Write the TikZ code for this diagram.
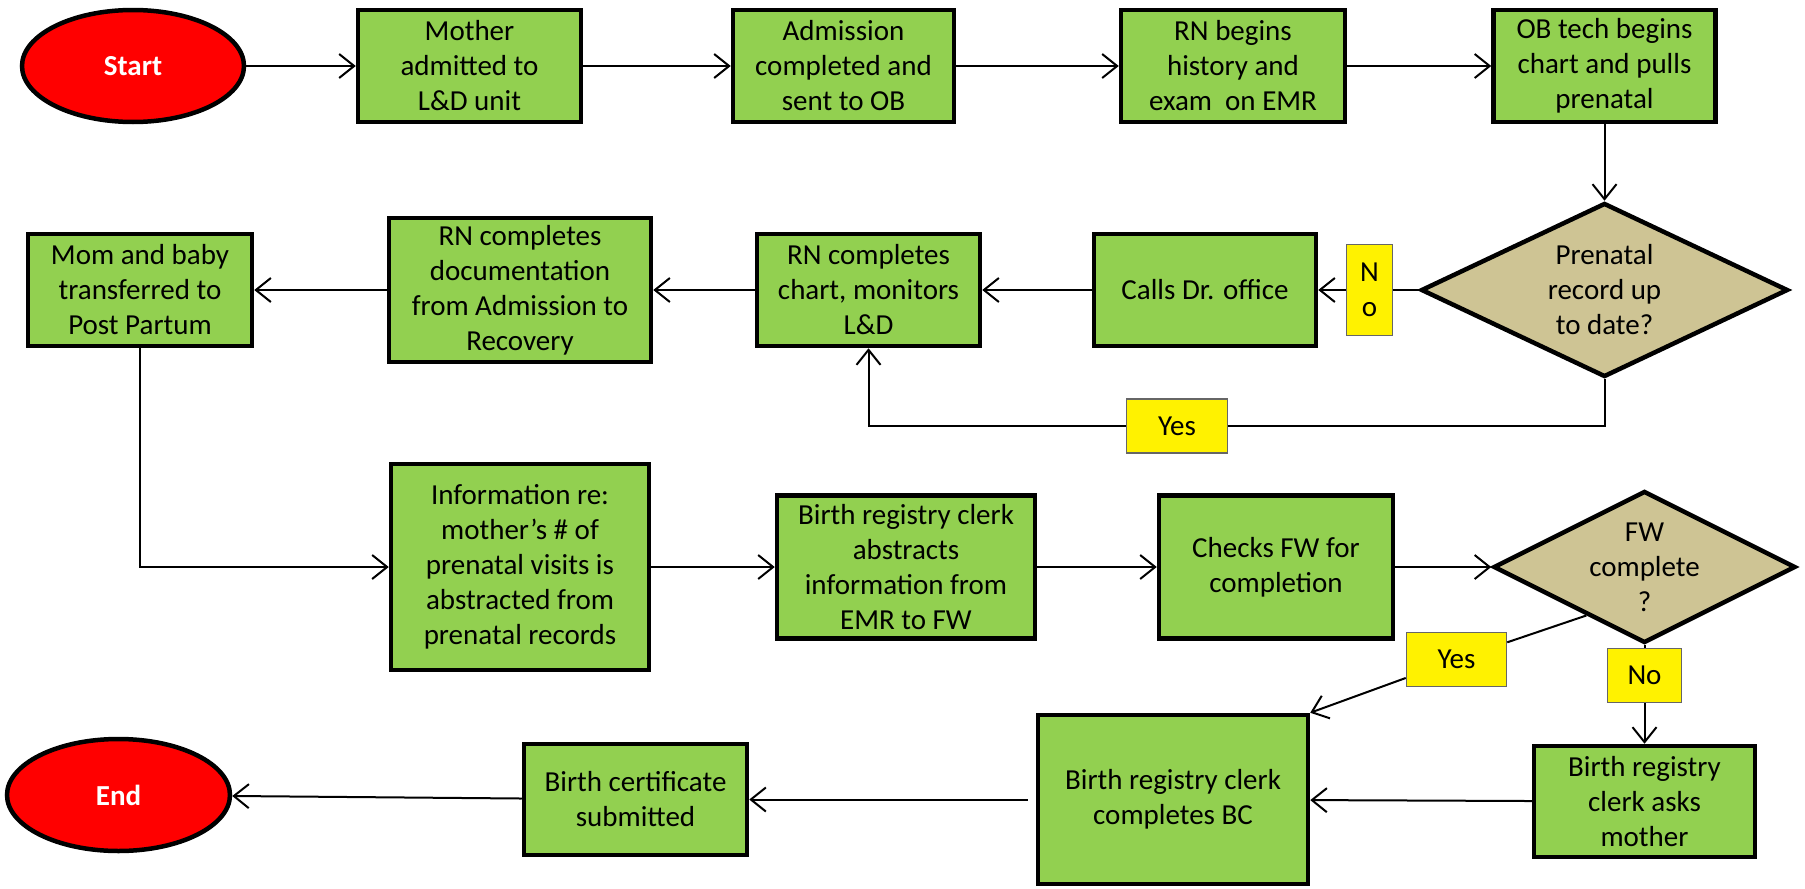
\documentclass[tikz,border=0pt]{standalone}
\usepackage{fontspec}
\setmainfont{Carlito}
\usetikzlibrary{arrows.meta,shapes.geometric,calc}
\definecolor{boxgreen}{RGB}{146,208,80}
\definecolor{decTan}{RGB}{206,196,148}
\begin{document}
\begin{tikzpicture}[x=1pt,y=-1pt,
  txt/.style={font=\fontsize{29}{35}\selectfont},
  proc/.style={txt,draw,line width=4.5pt,fill=boxgreen,align=center,inner sep=0pt},
  term/.style={ellipse,draw,line width=4.5pt,fill=red,text=white,inner sep=0pt,font=\fontsize{29}{35}\selectfont\bfseries},
  dec/.style={diamond,draw,line width=4.5pt,fill=decTan,inner sep=0pt},
  lab/.style={txt,draw=black!60,line width=1.5pt,fill=yellow,align=center,inner sep=0pt},
  conn/.style={line width=2pt},
  arr/.style={conn,-{Straight Barb[length=15pt,width=24pt]}},
]
\useasboundingbox (0,0) rectangle (1805,889);

% row 1
\node[term,minimum width=222pt,minimum height=112pt] (start) at (133,66) {Start};
\node[proc,minimum width=223pt,minimum height=112pt] (b1) at (469.5,66) {Mother\\admitted to\\L\&D unit};
\node[proc,minimum width=221pt,minimum height=112pt] (b2) at (843.5,66) {Admission\\completed and\\sent to OB};
\node[proc,minimum width=224pt,minimum height=112pt] (b3) at (1233,66) {RN begins\\history and\\exam\ \ on EMR};
\node[proc,minimum width=222pt,minimum height=112pt] (b4) at (1604.5,66) {OB tech begins\\chart and pulls\\prenatal};

% row 2
\node[dec,minimum width=367pt,minimum height=174pt,
  label={[txt,align=center]center:{Prenatal\\record up\\to date?}}] (d1) at (1604.5,290) {};
\node[lab,minimum width=46pt,minimum height=91pt] (no1) at (1369.5,290) {N\\o};
\node[proc,minimum width=222pt,minimum height=112pt] (b5) at (1205,290) {Calls Dr. office};
\node[proc,minimum width=223pt,minimum height=112pt] (b6) at (868.5,290) {RN completes\\chart, monitors\\L\&D};
\node[proc,minimum width=262pt,minimum height=144pt] (b7) at (520,290) {RN completes\\documentation\\from Admission to\\Recovery};
\node[proc,minimum width=224pt,minimum height=112pt] (b8) at (140,290) {Mom and baby\\transferred to\\Post Partum};
\node[lab,minimum width=101pt,minimum height=54pt] (yes1) at (1177,426) {Yes};

% row 3
\node[proc,minimum width=258pt,minimum height=206pt] (b9) at (520,567) {Information re:\\mother’s \# of\\prenatal visits is\\abstracted from\\prenatal records};
\node[proc,minimum width=258pt,minimum height=143pt] (b10) at (906,567) {Birth registry clerk\\abstracts\\information from\\EMR to FW};
\node[proc,minimum width=234pt,minimum height=143pt] (b11) at (1276,567) {Checks FW for\\completion};
\node[dec,minimum width=302pt,minimum height=152pt,
  label={[txt,align=center]center:{FW\\complete\\?}}] (d2) at (1644.5,567) {};
\node[lab,minimum width=100pt,minimum height=54pt] (yes2) at (1456.5,659.5) {Yes};
\node[lab,minimum width=74pt,minimum height=54pt] (no2) at (1644.5,675.5) {No};

% row 4
\node[proc,minimum width=270pt,minimum height=169pt] (b12) at (1173,799.5) {Birth registry clerk\\completes BC};
\node[proc,minimum width=221pt,minimum height=111pt] (b13) at (1644.5,801.5) {Birth registry\\clerk asks\\mother};
\node[proc,minimum width=223pt,minimum height=111pt] (b14) at (635.5,799.5) {Birth certificate\\submitted};
\node[term,minimum width=223pt,minimum height=112pt] (end) at (118.5,795) {End};

% connectors
\draw[arr] (start) -- (b1);
\draw[arr] (b1) -- (b2);
\draw[arr] (b2) -- (b3);
\draw[arr] (b3) -- (b4);
\draw[arr] (b4) -- (d1);
\draw[conn] (d1) -- (no1);
\draw[arr] (no1) -- (b5);
\draw[arr] (b5) -- (b6);
\draw[arr] (b6) -- (b7);
\draw[arr] (b7) -- (b8);
\draw[conn] (d1.south) |- (yes1.east);
\draw[arr] (yes1.west) -| (b6.south);
\draw[arr] (b8.south) |- (b9.west);
\draw[arr] (b9) -- (b10);
\draw[arr] (b10) -- (b11);
\draw[arr] (b11) -- (d2);
\coordinate (d2y) at ($(d2.west)!0.62!(d2.south)$);
\draw[conn] (d2y) -- (yes2);
\draw[arr] (yes2) -- (b12.north east);
\draw[conn] (d2) -- (no2);
\draw[arr] (no2) -- (b13);
\draw[arr] (b13) -- (b12);
\draw[arr,shorten <=8pt] (b12) -- (b14);
\draw[arr] (b14) -- (end);
\end{tikzpicture}
\end{document}
